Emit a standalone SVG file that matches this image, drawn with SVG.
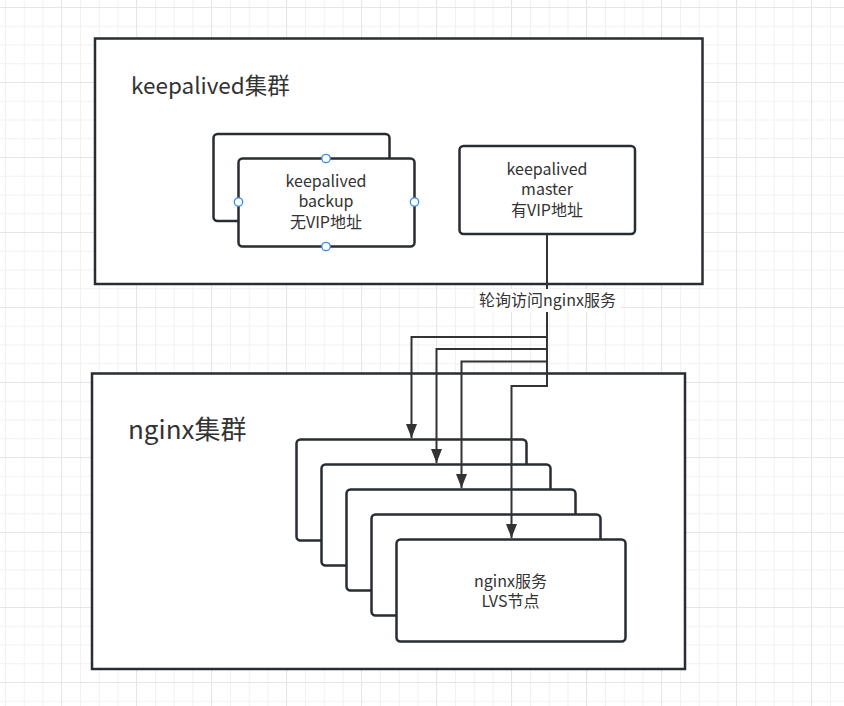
<svg xmlns="http://www.w3.org/2000/svg" width="844" height="706" viewBox="0 0 844 706">
<defs>
<pattern id="minor" patternUnits="userSpaceOnUse" x="5" y="7" width="18.75" height="18.75">
<rect x="0" y="0" width="1" height="18.75" fill="#f1f1f1"/>
<rect x="0" y="0" width="18.75" height="1" fill="#f1f1f1"/>
</pattern>
<pattern id="major" patternUnits="userSpaceOnUse" x="61" y="7" width="75" height="75">
<rect x="0" y="0" width="1" height="75" fill="#e6e6e6"/>
<rect x="0" y="0" width="75" height="1" fill="#e6e6e6"/>
</pattern>
<marker id="arr" markerUnits="userSpaceOnUse" markerWidth="14" markerHeight="11" refX="14" refY="5.5" viewBox="0 0 14 11" orient="auto">
<path d="M0,0 L14,5.5 L0,11 Z" fill="#333"/>
</marker>
<style>
.box{fill:#fff;stroke:#272d33;stroke-width:2.5}
.node{fill:#fff;stroke:#272d33;stroke-width:2.5}
.t{font-family:"Noto Sans CJK SC","Noto Sans",sans-serif;fill:#333;text-anchor:middle}
.s{font-size:16px}
.title{font-family:"Noto Sans CJK SC","Noto Sans",sans-serif;fill:#333}
.conn{fill:none;stroke:#333;stroke-width:2}
.h{fill:#fff;stroke:#3a8ee6;stroke-width:1.3}
</style>
</defs>
<rect width="844" height="706" fill="#fff"/>
<rect width="844" height="706" fill="url(#minor)"/>
<rect width="844" height="706" fill="url(#major)"/>

<g id="keepalived-cluster">
<rect class="box" x="95" y="38.5" width="607.5" height="245.5"/>
<text class="title" x="131" y="94" font-size="22.5">keepalived集群</text>
</g>

<g id="backup">
<rect class="node" x="213.5" y="134" width="176" height="87" rx="4"/>
<rect class="node" x="238.5" y="158.5" width="176" height="88" rx="4"/>
<text class="t s" x="326" y="187">keepalived</text>
<text class="t s" x="326" y="207">backup</text>
<text class="t s" x="326" y="228">无VIP地址</text>
<circle class="h" cx="326" cy="158.5" r="4.2"/>
<circle class="h" cx="238.5" cy="202" r="4.2"/>
<circle class="h" cx="414.5" cy="202" r="4.2"/>
<circle class="h" cx="326" cy="246.5" r="4.2"/>
</g>

<g id="master">
<rect class="node" x="459.5" y="146" width="175.5" height="88" rx="4"/>
<text class="t s" x="547" y="175">keepalived</text>
<text class="t s" x="547" y="195">master</text>
<text class="t s" x="547" y="216">有VIP地址</text>
</g>

<g id="nginx-cluster">
<rect class="box" x="92" y="373.5" width="593" height="295.5"/>
<text class="title" x="128" y="439" font-size="26">nginx集群</text>
</g>

<g id="nginx-nodes">
<rect class="node" x="296.5" y="439.5" width="230" height="101" rx="4"/>
<rect class="node" x="321.5" y="464.5" width="229" height="101" rx="4"/>
<rect class="node" x="346.5" y="489.5" width="229" height="101" rx="4"/>
<rect class="node" x="371.5" y="514.5" width="229" height="101" rx="4"/>
<rect class="node" x="396.5" y="539.5" width="229" height="102" rx="4"/>
<text class="t s" x="510.5" y="587">nginx服务</text>
<text class="t s" x="510.5" y="607">LVS节点</text>
</g>

<g id="connectors">
<path class="conn" d="M547,234 V386 H511.5 V538" marker-end="url(#arr)"/>
<path class="conn" d="M547,337 H411.5 V438" marker-end="url(#arr)"/>
<path class="conn" d="M547,349 H436.5 V463" marker-end="url(#arr)"/>
<path class="conn" d="M547,361.5 H461.5 V488" marker-end="url(#arr)"/>
<rect x="475" y="289" width="145" height="23" fill="#fff"/>
<text class="t" x="547.5" y="306" font-size="16">轮询访问nginx服务</text>
</g>
</svg>
